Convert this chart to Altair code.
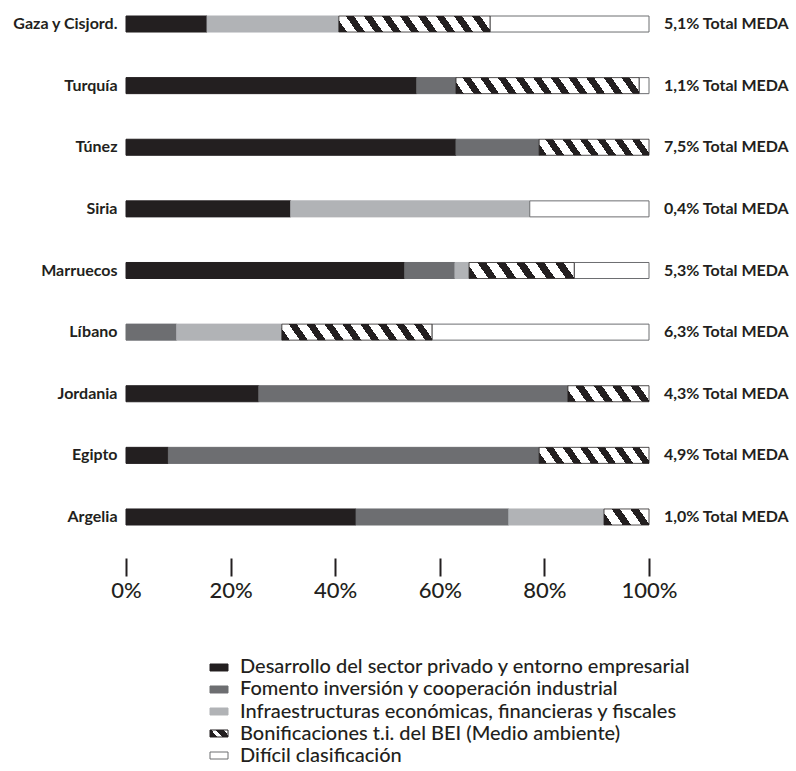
import altair as alt
import pandas as pd

# Countries (top to bottom) and their share of the MEDA total
countries = ["Gaza y Cisjord.", "Turquía", "Túnez", "Siria", "Marruecos",
             "Líbano", "Jordania", "Egipto", "Argelia"]
meda_share = ["5,1%", "1,1%", "7,5%", "0,4%", "5,3%", "6,3%", "4,3%", "4,9%", "1,0%"]

categories = [
    "Desarrollo del sector privado y entorno empresarial",
    "Fomento inversión y cooperación industrial",
    "Infraestructuras económicas, financieras y fiscales",
    "Bonificaciones t.i. del BEI (Medio ambiente)",
    "Difícil clasificación",
]

# Percentage of each country's allocation by category
privado = [15.5, 55.6, 63.1, 31.5, 53.3, 0.0, 25.4, 8.1, 44.0]
fomento = [0.0, 7.5, 15.9, 0.0, 9.6, 9.7, 59.1, 70.9, 29.2]
infra = [25.2, 0.0, 0.0, 45.7, 2.7, 20.1, 0.0, 0.0, 18.2]
bonif = [28.9, 35.0, 21.0, 0.0, 20.1, 28.7, 15.5, 21.0, 8.6]
dificil = [30.4, 1.9, 0.0, 22.8, 14.3, 41.5, 0.0, 0.0, 0.0]

colors = ["#231f20", "#6d6e71", "#b1b3b6", "#231f20", "#ffffff"]
strokes = ["#231f20", "#6d6e71", "#b1b3b6", "#231f20", "#6d6e71"]
INK = "#231f20"
FONT = "Lato"

PLOT_W = 523
PLOT_H = 509
BAR_H = 16

# ---- long table with stacked start/end per segment ----
rows = []
series = [privado, fomento, infra, bonif, dificil]
for i, c in enumerate(countries):
    acc = 0.0
    for cat, vals in zip(categories, series):
        v = vals[i]
        if v > 0:
            rows.append({"country": c, "category": cat, "value": v,
                         "start": acc, "end": acc + v})
        acc += v
seg = pd.DataFrame(rows)

labels = pd.DataFrame({"country": countries,
                       "label": [s + " Total MEDA" for s in meda_share],
                       "total": [100] * len(countries)})


def stripes(width_px, height_px, slant=0.7, period=18.0, ink=0.45):
    """Diagonal black/white hatching built as a hard-stop linear gradient."""
    k = slant * height_px / width_px
    a = (1 + k) / (1 + k * k)
    n = max(1, round(width_px * (1 + k) / period))
    stops = []
    for j in range(n):
        s, m, e = j / n, (j + ink) / n, (j + 1) / n
        stops += [alt.GradientStop(offset=s, color=INK),
                  alt.GradientStop(offset=m, color=INK),
                  alt.GradientStop(offset=m, color="#ffffff"),
                  alt.GradientStop(offset=e, color="#ffffff")]
    return alt.LinearGradient(gradient="linear", stops=stops,
                              x1=0, y1=1, x2=a, y2=1 - a * k)


y_enc = alt.Y(
    "country:N", sort=countries,
    scale=alt.Scale(paddingInner=0.74, paddingOuter=0),
    axis=alt.Axis(title=None, domain=False, ticks=False, labelPadding=9,
                  labelFont=FONT, labelFontSize=16, labelFontWeight=700,
                  labelColor=INK),
)
x_enc = alt.X(
    "start:Q",
    scale=alt.Scale(domain=[0, 100], nice=False),
    axis=alt.Axis(title=None, values=[0, 20, 40, 60, 80, 100],
                  labelExpr="datum.value + '%'", domain=False, grid=False,
                  offset=33, tickSize=18, tickWidth=2, tickColor=INK,
                  labelFont=FONT, labelFontSize=22, labelFontWeight=500,
                  labelColor=INK, labelPadding=4, labelFlush=False),
)
color_scale = alt.Scale(domain=categories, range=colors)
stroke_scale = alt.Scale(domain=categories, range=strokes)

base = alt.Chart(seg)

plain = base.transform_filter(
    alt.datum.category != categories[3]
).mark_bar(strokeWidth=1).encode(
    y=y_enc, x=x_enc, x2="end:Q",
    color=alt.Color("category:N", scale=color_scale, legend=None),
    stroke=alt.Stroke("category:N", scale=stroke_scale, legend=None),
)

layers = [plain]
for i, c in enumerate(countries):
    if bonif[i] > 0:
        w = bonif[i] / 100 * PLOT_W
        layers.append(
            base.transform_filter(
                (alt.datum.category == categories[3]) & (alt.datum.country == c)
            ).mark_bar(fill=stripes(w, BAR_H), stroke=INK, strokeWidth=0.8)
            .encode(y=y_enc, x=x_enc, x2="end:Q")
        )

share_text = alt.Chart(labels).mark_text(
    align="left", baseline="middle", dx=15, font=FONT, fontSize=16,
    fontWeight=700, color=INK,
).encode(y=y_enc, x=alt.X("total:Q"), text="label:N")
layers.append(share_text)

bars = alt.layer(*layers).properties(width=PLOT_W, height=PLOT_H)

# ---- legend block ----
legend_df = pd.DataFrame({"category": categories})
ly = alt.Y("category:N", sort=categories, axis=None,
           scale=alt.Scale(paddingInner=0.682, paddingOuter=0))
sw = alt.Chart(legend_df)
swatch = sw.transform_filter(alt.datum.category != categories[3]).mark_bar(
    strokeWidth=1
).encode(
    y=ly, x=alt.value(84), x2=alt.value(102),
    color=alt.Color("category:N", scale=color_scale, legend=None),
    stroke=alt.Stroke("category:N", scale=stroke_scale, legend=None),
)
swatch_hatch = sw.transform_filter(alt.datum.category == categories[3]).mark_bar(
    fill=stripes(18, 7, slant=0.9, period=14, ink=0.62), stroke=INK, strokeWidth=1
).encode(y=ly, x=alt.value(84), x2=alt.value(102))
legend_text = sw.mark_text(
    align="left", baseline="middle", font=FONT, fontSize=20, fontWeight=500,
    color=INK,
).encode(y=ly, x=alt.value(114), text="category:N")

legend = alt.layer(swatch, swatch_hatch, legend_text).properties(
    width=PLOT_W, height=95)

chart = alt.vconcat(bars, legend, spacing=139, bounds="flush").resolve_scale(
    x="independent", y="independent"
).properties(
    padding={"left": 12, "top": 15, "right": 5, "bottom": 5},
    background="#ffffff",
).configure_view(stroke=None)

chart.save("out.html", embed_options={"renderer": "svg", "actions": False})
